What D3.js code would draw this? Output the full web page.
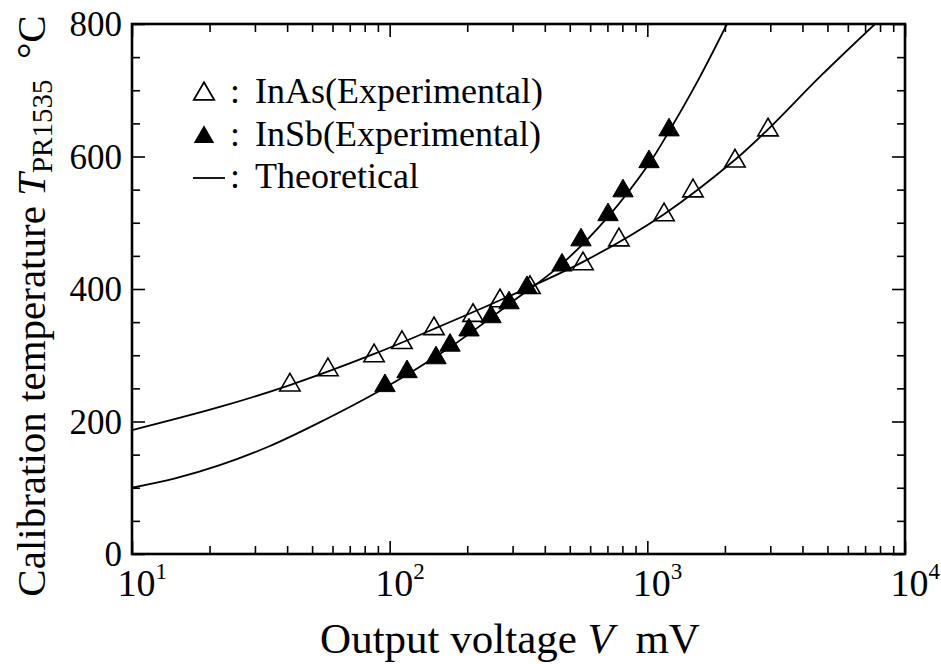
<!DOCTYPE html>
<html>
<head>
<meta charset="utf-8">
<script src="https://cdn.jsdelivr.net/npm/d3@7"></script>
<style>
  body { margin: 0; background: #fff; }
  svg text { font-family: "Liberation Serif", "DejaVu Serif", serif; fill: #000; }
</style>
</head>
<body>
<svg id="chart" width="941" height="664"></svg>
<script>
const inAsV = [41.0, 57.6, 87.0, 111.6, 148.6, 210.6, 268.1, 350.4, 562.7, 776, 1161, 1504, 2189, 2940];
const inAsT = [255, 278, 299, 319, 340, 360, 382, 402, 438, 474, 512, 548, 593, 640];
const inSbV = [95.9, 116.8, 151.3, 171.5, 203.2, 247.4, 290.5, 341.2, 466.5, 552.8, 703.7, 804.6, 1015, 1214];
const inSbT = [254, 275, 296, 315, 338, 358, 379, 402, 436, 474, 512, 548, 592, 640];

// theoretical curves
const inAsTheoV = [10, 21.9, 41, 87, 149, 268, 563, 1161, 2189, 2940, 4720, 7650];
const inAsTheoT = [187, 222, 255, 302, 340, 383, 441, 513, 595, 641, 722, 800];
const inSbTheoV = [10, 14.7, 21.9, 34.3, 53.7, 95.9, 171.5, 290.5, 466.5, 703.7, 1015, 1214, 1573, 2038];
const inSbTheoT = [100, 114, 134, 163, 199, 251, 312, 377, 438, 509, 589, 638, 715, 800];

const xMajor = [10, 100, 1000, 10000];
const xMinor = [20, 30, 40, 50, 60, 70, 80, 90, 200, 300, 400, 500, 600, 700, 800, 900,
                2000, 3000, 4000, 5000, 6000, 7000, 8000, 9000];
const yMajor = [0, 200, 400, 600, 800];
const yMinor = [50, 100, 150, 250, 300, 350, 450, 500, 550, 650, 700, 750];

const legendItems = ["InAs(Experimental)", "InSb(Experimental)", "Theoretical"];

const serif = "'Liberation Serif', 'DejaVu Serif', serif";
const margin = {top: 24, right: 36, bottom: 110, left: 132};
const W = 941, H = 664;
const w = W - margin.left - margin.right;
const h = H - margin.top - margin.bottom;

const svg = d3.select("#chart");
const g = svg.append("g").attr("transform", `translate(${margin.left},${margin.top})`);

const x = d3.scaleLog().domain([10, 10000]).range([0, w]);
const y = d3.scaleLinear().domain([0, 800]).range([h, 0]);

// ticks on all four sides, pointing in
const tickAxis = (axis, vals, size) => axis.tickValues(vals).tickSize(size).tickFormat("");
const axes = [
  [d3.axisBottom(x), xMajor, -13, `translate(0,${h})`],
  [d3.axisBottom(x), xMinor, -8, `translate(0,${h})`],
  [d3.axisTop(x), xMajor, -13, null],
  [d3.axisTop(x), xMinor, -8, null],
  [d3.axisLeft(y), yMajor, -13, null],
  [d3.axisLeft(y), yMinor, -8, null],
  [d3.axisRight(y), yMajor, -13, `translate(${w},0)`],
  [d3.axisRight(y), yMinor, -8, `translate(${w},0)`]
];
axes.forEach(([ax, vals, size, tr]) => {
  const a = g.append("g").call(tickAxis(ax, vals, size));
  if (tr) a.attr("transform", tr);
  a.select(".domain").remove();
  a.selectAll("line").attr("stroke", "#000").attr("stroke-width", 1.6);
});

// tick labels
const yLab = g.append("g")
  .call(d3.axisLeft(y).tickValues(yMajor).tickSize(0).tickPadding(10).tickFormat(d3.format("d")));
yLab.attr("font-family", null);
yLab.select(".domain").remove();
yLab.selectAll("text")
  .style("font-family", serif).style("font-size", "35px")
  .attr("dy", "0.34em");

const xLab = g.append("g").attr("transform", `translate(0,${h})`)
  .call(d3.axisBottom(x).tickValues(xMajor).tickSize(0).tickPadding(12).tickFormat(""));
xLab.attr("font-family", null);
xLab.select(".domain").remove();
xLab.selectAll(".tick text")
  .style("font-family", serif).style("font-size", "38px")
  .attr("dy", "0.8em").attr("text-anchor", "start").attr("x", -15)
  .each(function(d) {
    const t = d3.select(this);
    t.append("tspan").text("10");
    t.append("tspan").style("font-size", "23px").attr("dy", "-0.75em").text(Math.round(Math.log10(d)));
  });

// clip for curves
g.append("clipPath").attr("id", "clip")
  .append("rect").attr("width", w).attr("height", h);

const line = d3.line()
  .x(d => x(d[0]))
  .y(d => y(d[1]))
  .curve(d3.curveCatmullRom.alpha(0.5));

[[inAsTheoV, inAsTheoT], [inSbTheoV, inSbTheoT]].forEach(([vs, ts]) => {
  g.append("path")
    .attr("d", line(vs.map((v, i) => [v, ts[i]])))
    .attr("fill", "none")
    .attr("stroke", "#000")
    .attr("stroke-width", 1.8)
    .attr("clip-path", "url(#clip)");
});

const tri = d3.symbol(d3.symbolTriangle, 180);

g.selectAll(".inas").data(inAsV.map((v, i) => [v, inAsT[i]])).join("path")
  .attr("class", "inas")
  .attr("d", tri)
  .attr("transform", d => `translate(${x(d[0])},${y(d[1])})`)
  .attr("fill", "none")
  .attr("stroke", "#000").attr("stroke-width", 1.6);

g.selectAll(".insb").data(inSbV.map((v, i) => [v, inSbT[i]])).join("path")
  .attr("class", "insb")
  .attr("d", tri)
  .attr("transform", d => `translate(${x(d[0])},${y(d[1])})`)
  .attr("fill", "#000").attr("stroke", "#000").attr("stroke-width", 1);

// frame
g.append("rect").attr("width", w).attr("height", h)
  .attr("fill", "none").attr("stroke", "#000").attr("stroke-width", 2.6);

// legend
const leg = svg.append("g").attr("transform", "translate(204,0)");
const legY = [103, 146, 188];
leg.append("path").attr("d", tri).attr("transform", `translate(0,${legY[0] - 9})`)
  .attr("fill", "#fff").attr("stroke", "#000").attr("stroke-width", 1.8);
leg.append("path").attr("d", tri).attr("transform", `translate(0,${legY[1] - 9})`)
  .attr("fill", "#000");
leg.append("line").attr("x1", -11).attr("x2", 21).attr("y1", legY[2] - 10).attr("y2", legY[2] - 10)
  .attr("stroke", "#000").attr("stroke-width", 1.8);
leg.selectAll(".lc").data(legendItems).join("text")
  .attr("class", "lc")
  .attr("x", 26).attr("y", (d, i) => legY[i])
  .style("font-size", "36px")
  .text(":");
leg.selectAll(".lt").data(legendItems).join("text")
  .attr("class", "lt")
  .attr("x", 51).attr("y", (d, i) => legY[i])
  .style("font-size", "36px")
  .text(d => d);

// axis titles
const xt = svg.append("text")
  .attr("x", 510).attr("y", 653).attr("text-anchor", "middle").style("font-size", "43px");
xt.append("tspan").text("Output voltage ");
xt.append("tspan").style("font-style", "italic").text("V");
xt.append("tspan").attr("xml:space", "preserve").text("  mV");

const yt = svg.append("text")
  .attr("transform", "translate(45,306) rotate(-90)")
  .attr("text-anchor", "middle").style("font-size", "41px");
yt.append("tspan").text("Calibration temperature ");
yt.append("tspan").style("font-style", "italic").text("T");
yt.append("tspan").style("font-size", "29px").attr("dy", "0.25em").text("PR1535");
yt.append("tspan").attr("dy", "-0.18em").attr("xml:space", "preserve").text("  \u00B0C");
</script>
</body>
</html>
